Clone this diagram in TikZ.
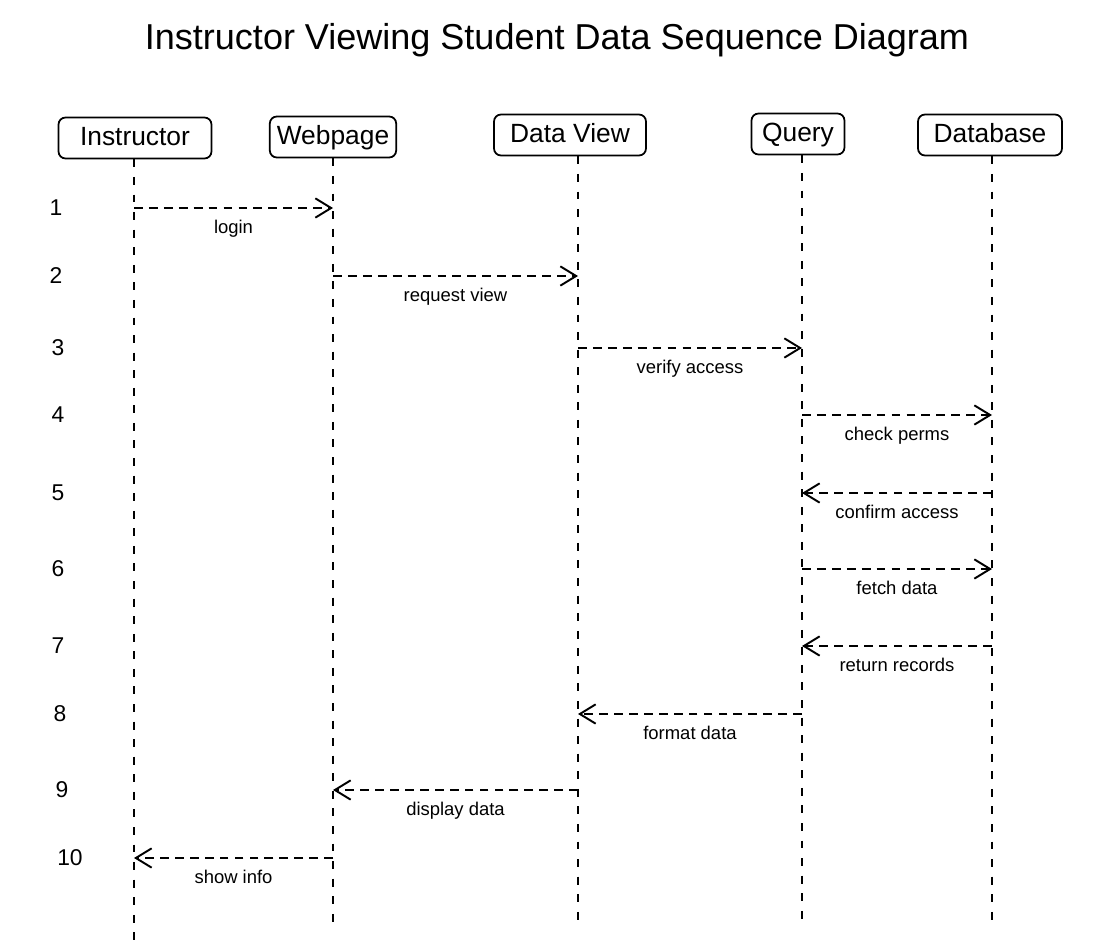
\documentclass[tikz,border=0pt]{standalone}
\usepackage{fontspec}
\setmainfont{Liberation Sans}
\usetikzlibrary{arrows.meta,positioning}

\begin{document}
\begin{tikzpicture}[x=0.02cm, y=-0.02cm,
    >={Straight Barb[length=9pt,width=11pt,line width=1.1pt]},
    actor/.style={draw, rounded corners=4pt, line width=1pt, minimum height=0.82cm,
      inner xsep=4pt, inner ysep=0pt, text height=11pt, text depth=3pt,
      font=\fontsize{15}{18}\selectfont},
    life/.style={line width=1.1pt, dash pattern=on 4.5pt off 5.5pt},
    msg/.style={->, line width=1.1pt, dash pattern=on 5pt off 3.5pt},
    lbl/.style={below=3pt, font=\fontsize{10.5}{12}\selectfont},
    num/.style={font=\fontsize{13}{15}\selectfont}]
    \useasboundingbox (0,0) rectangle (1096,950);

    % Title
    \node[font=\fontsize{20.5}{24}\selectfont] (title) at (557,40)
      {Instructor Viewing Student Data Sequence Diagram};

    % Participants
    \node[actor, minimum width=3.06cm] (ins) at (135,138) {Instructor};
    \node[actor, minimum width=2.36cm] (web) at (333,137) {Webpage};
    \node[actor, minimum width=3.04cm] (dv)  at (570,135) {Data View};
    \node[actor, minimum width=1.86cm] (qry) at (798,134) {Query};
    \node[actor, minimum width=2.88cm] (db)  at (990,135) {Database};

    % Lifelines
    \coordinate (insEnd) at (134,940);
    \coordinate (webEnd) at (333,928);
    \coordinate (dvEnd)  at (578,925);
    \coordinate (qryEnd) at (802,922);
    \coordinate (dbEnd)  at (992,925);
    \draw[life] (insEnd |- ins.south) -- (insEnd);
    \draw[life] (webEnd |- web.south) -- (webEnd);
    \draw[life] (dvEnd |- dv.south) -- (dvEnd);
    \draw[life] (qryEnd |- qry.south) -- (qryEnd);
    \draw[life] (dbEnd |- db.south) -- (dbEnd);

    % Step numbers
    \foreach \n/\xx/\yy in {1/56/208, 2/56/276, 3/58/348, 4/58/415, 5/58/493,
                            6/58/569, 7/58/646, 8/60/714, 9/62/790, 10/70/858}
      \node[num] (num\n) at (\xx,\yy) {\n};

    % Messages
    \draw[msg] (insEnd |- num1) -- (webEnd |- num1) node[lbl, midway] {login};
    \draw[msg] (webEnd |- num2) -- (dvEnd |- num2) node[lbl, midway] {request view};
    \draw[msg] (dvEnd |- num3) -- (qryEnd |- num3) node[lbl, midway] {verify access};
    \draw[msg] (qryEnd |- num4) -- (dbEnd |- num4) node[lbl, midway] {check perms};
    \draw[msg] (dbEnd |- num5) -- (qryEnd |- num5) node[lbl, midway] {confirm access};
    \draw[msg] (qryEnd |- num6) -- (dbEnd |- num6) node[lbl, midway] {fetch data};
    \draw[msg] (dbEnd |- num7) -- (qryEnd |- num7) node[lbl, midway] {return records};
    \draw[msg] (qryEnd |- num8) -- (dvEnd |- num8) node[lbl, midway] {format data};
    \draw[msg] (dvEnd |- num9) -- (webEnd |- num9) node[lbl, midway] {display data};
    \draw[msg] (webEnd |- num10) -- (insEnd |- num10) node[lbl, midway] {show info};
\end{tikzpicture}
\end{document}
